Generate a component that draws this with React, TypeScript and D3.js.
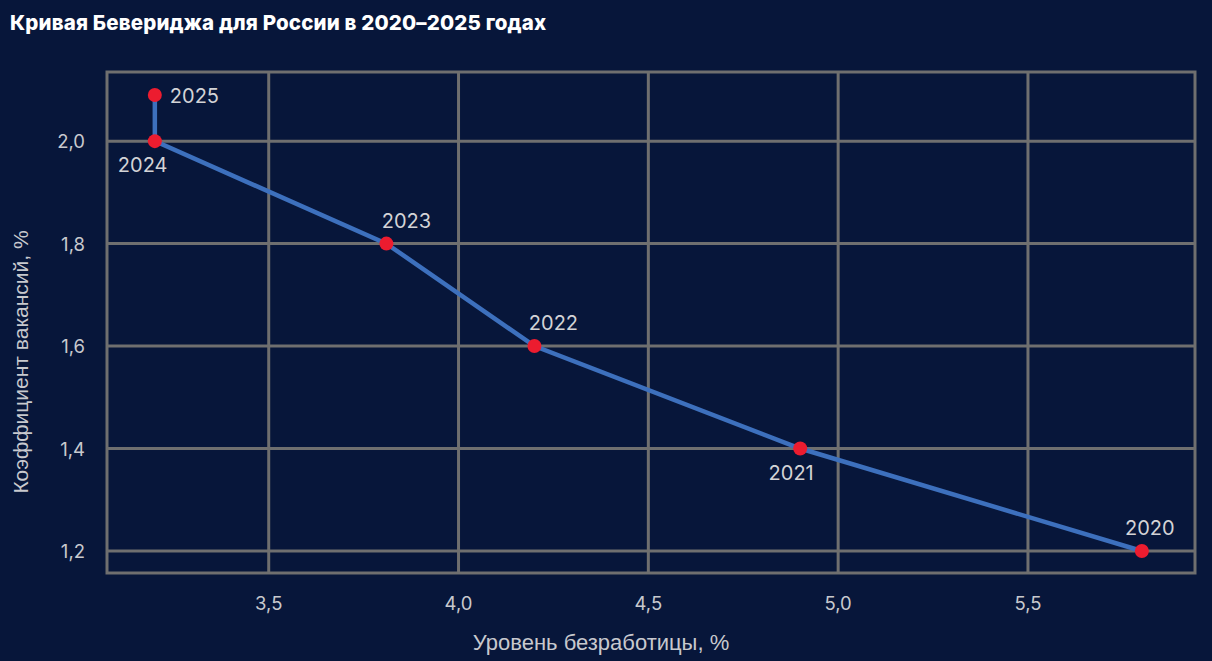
import { useEffect, useRef } from 'react';
import * as d3 from 'd3';

const years = ['2020', '2021', '2022', '2023', '2024', '2025'];
const unemployment = [5.8, 4.9, 4.2, 3.81, 3.2, 3.2];
const vacancies = [1.2, 1.4, 1.6, 1.8, 2.0, 2.09];
const xTicks = [3.5, 4.0, 4.5, 5.0, 5.5];
const yTicks = [1.2, 1.4, 1.6, 1.8, 2.0];

// label placement relative to point: dx, dy, anchor
const labelPos: Record<string, [number, number, string]> = {
    '2020': [8, -16, 'middle'],
    '2021': [-9, 31, 'middle'],
    '2022': [19, -16, 'middle'],
    '2023': [20, -16, 'middle'],
    '2024': [-37, 31, 'start'],
    '2025': [15, 8, 'start'],
};

const W = 1212;
const H = 661;
const margin = { top: 72, right: 17, bottom: 88, left: 107 };
const numFont = 'Inter, Roboto, sans-serif';
const textFont = '"Liberation Sans", Arial, sans-serif';

export default function App() {
    const svgRef = useRef<SVGSVGElement>(null);

    useEffect(() => {
        if (!svgRef.current) return;
        const svg = d3.select(svgRef.current);
        svg.selectAll('*').remove();

        const x = d3.scaleLinear().domain([3.074, 5.94]).range([margin.left, W - margin.right]);
        const y = d3.scaleLinear().domain([1.157, 2.135]).range([H - margin.bottom, margin.top]);
        const fmt = (v: number) => d3.format('.1f')(v).replace('.', ',');

        svg.append('rect').attr('width', W).attr('height', H).attr('fill', '#07163a');

        svg.append('text')
            .attr('x', 10).attr('y', 30)
            .attr('fill', '#ffffff')
            .attr('font-family', numFont)
            .attr('font-weight', 800)
            .attr('font-size', 20.5)
            .attr('letter-spacing', 0.15)
            .text('Кривая Бевериджа для России в 2020–2025 годах');

        const grid = svg.append('g').attr('stroke', '#6f6f6f').attr('stroke-width', 3);
        grid.selectAll('line.v').data(xTicks).join('line')
            .attr('x1', d => x(d)).attr('x2', d => x(d))
            .attr('y1', margin.top).attr('y2', H - margin.bottom);
        grid.selectAll('line.h').data(yTicks).join('line')
            .attr('x1', margin.left).attr('x2', W - margin.right)
            .attr('y1', d => y(d)).attr('y2', d => y(d));
        grid.append('rect')
            .attr('x', margin.left).attr('y', margin.top)
            .attr('width', W - margin.left - margin.right)
            .attr('height', H - margin.top - margin.bottom)
            .attr('fill', 'none');

        svg.append('g').selectAll('text').data(xTicks).join('text')
            .attr('x', d => x(d)).attr('y', 610)
            .attr('text-anchor', 'middle')
            .attr('fill', '#c8c9ce').attr('font-family', numFont).attr('font-size', 18.5)
            .text(d => fmt(d));

        svg.append('g').selectAll('text').data(yTicks).join('text')
            .attr('x', 85).attr('y', d => y(d) + 7)
            .attr('text-anchor', 'end')
            .attr('fill', '#c8c9ce').attr('font-family', numFont).attr('font-size', 18.5)
            .text(d => fmt(d));

        svg.append('text')
            .attr('x', 601).attr('y', 650)
            .attr('text-anchor', 'middle')
            .attr('fill', '#c8c9ce').attr('font-family', textFont).attr('font-size', 22)
            .text('Уровень безработицы, %');

        svg.append('text')
            .attr('transform', `translate(28,362) rotate(-90)`)
            .attr('text-anchor', 'middle')
            .attr('fill', '#c8c9ce').attr('font-family', textFont).attr('font-size', 21)
            .text('Коэффициент вакансий, %');

        const pts = years.map((yr, i) => ({ yr, u: unemployment[i], v: vacancies[i] }));

        const line = d3.line<typeof pts[number]>().x(d => x(d.u)).y(d => y(d.v));
        svg.append('path')
            .datum(pts)
            .attr('d', line)
            .attr('fill', 'none')
            .attr('stroke', '#3d70bd')
            .attr('stroke-width', 4.5);

        svg.append('g').selectAll('circle').data(pts).join('circle')
            .attr('cx', d => x(d.u)).attr('cy', d => y(d.v))
            .attr('r', 7)
            .attr('fill', '#ec1c2f');

        svg.append('g').selectAll('text').data(pts).join('text')
            .attr('x', d => x(d.u) + labelPos[d.yr][0])
            .attr('y', d => y(d.v) + labelPos[d.yr][1])
            .attr('text-anchor', d => labelPos[d.yr][2])
            .attr('fill', '#d3d3d6').attr('font-family', numFont).attr('font-size', 20)
            .text(d => d.yr);
    }, []);

    return <svg ref={svgRef} width={W} height={H} style={{ display: 'block', position: 'absolute', left: 0, top: 0 }} />;
}
